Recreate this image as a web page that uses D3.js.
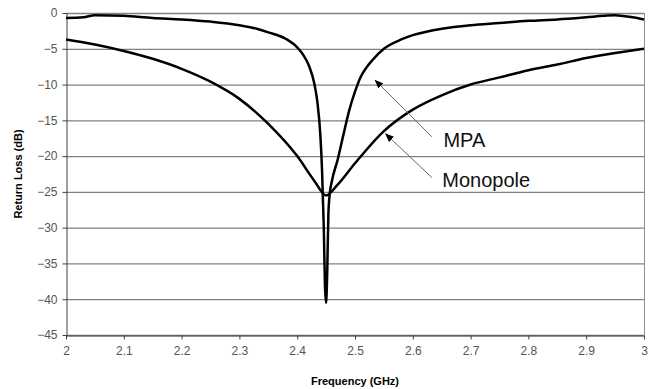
<!DOCTYPE html>
<html><head><meta charset="utf-8">
<script src="https://cdnjs.cloudflare.com/ajax/libs/d3/7.8.5/d3.min.js"></script>
<style>body{margin:0;background:#fff}svg{display:block}</style>
</head><body><svg id="c" width="659" height="389"></svg>
<script>
const xTicks = [2,2.1,2.2,2.3,2.4,2.5,2.6,2.7,2.8,2.9,3];
const yTicks = [0,-5,-10,-15,-20,-25,-30,-35,-40,-45];
const mpaFreq = [2.0,2.03,2.05,2.1,2.15,2.2,2.25,2.3,2.33,2.35,2.38,2.4,2.41,2.42,2.43,2.435,2.44,2.443,2.446,2.448,2.45,2.452,2.454,2.456,2.46,2.47,2.48,2.49,2.5,2.51,2.52,2.53,2.55,2.58,2.6,2.65,2.7,2.75,2.8,2.85,2.9,2.93,2.95,2.98,3.0];
const mpaDb   = [-0.7,-0.6,-0.3,-0.4,-0.7,-0.9,-1.2,-1.7,-2.2,-2.7,-3.6,-4.8,-5.8,-7.3,-10,-12.5,-17,-22,-30,-38,-40.5,-36,-28,-25.5,-23.5,-20.5,-17,-13.6,-11,-8.9,-7.6,-6.6,-5,-3.7,-3.1,-2.2,-1.7,-1.4,-1.1,-0.9,-0.6,-0.4,-0.3,-0.6,-0.9];
const monoFreq = [2.0,2.05,2.1,2.15,2.2,2.25,2.3,2.35,2.4,2.43,2.45,2.47,2.5,2.55,2.6,2.65,2.7,2.75,2.8,2.85,2.9,2.95,3.0];
const monoDb   = [-3.7,-4.4,-5.3,-6.4,-7.8,-9.6,-12.0,-15.5,-20,-23.5,-25.5,-24,-21,-16.5,-13.5,-11.5,-10,-9,-8.0,-7.2,-6.3,-5.6,-5.0];
const labels = ["MPA","Monopole"];

const svg = d3.select("#c");
const m = {l:66, r:644, t:13, b:335};
const x = d3.scaleLinear().domain([2,3]).range([m.l,m.r]);
const y = d3.scaleLinear().domain([0,-45]).range([m.t,m.b]);

// gridlines
svg.append("g").selectAll("line").data(yTicks).join("line")
  .attr("x1",m.l).attr("x2",m.r).attr("y1",d=>y(d)+0.5).attr("y2",d=>y(d)+0.5)
  .attr("stroke","#808080").attr("stroke-width",1.3);
// right border
svg.append("line").attr("x1",m.r+0.5).attr("x2",m.r+0.5).attr("y1",m.t).attr("y2",m.b).attr("stroke","#909090");

// axes
const ax = svg.append("g").attr("transform",`translate(0,${m.b+0.5})`)
  .call(d3.axisBottom(x).tickValues(xTicks).tickSize(4).tickSizeOuter(0).tickPadding(7).tickFormat(d=>d3.format("")(+d.toFixed(1))));
const ay = svg.append("g").attr("transform",`translate(${m.l+0.5},0)`)
  .call(d3.axisLeft(y).tickValues(yTicks).tickSize(4).tickSizeOuter(0).tickPadding(5));
[ax,ay].forEach(a=>{
  a.selectAll("path,line").attr("stroke","#404040");
  a.selectAll("text").attr("font-family","'Liberation Sans', Arial, sans-serif").attr("font-size",12).attr("fill","#555");
});

// curves
const line = d3.line().x(d=>x(d[0])).y(d=>y(d[1])).curve(d3.curveMonotoneX);
svg.append("path").datum(mpaFreq.map((f,i)=>[f,mpaDb[i]])).attr("d",line)
  .attr("fill","none").attr("stroke","#000").attr("stroke-width",2.5);
svg.append("path").datum(monoFreq.map((f,i)=>[f,monoDb[i]])).attr("d",line)
  .attr("fill","none").attr("stroke","#000").attr("stroke-width",2.5);

// annotations
svg.append("defs").append("marker").attr("id","ah").attr("viewBox","0 0 10 10")
  .attr("refX",9).attr("refY",5).attr("markerWidth",9).attr("markerHeight",9).attr("orient","auto")
  .attr("markerUnits","userSpaceOnUse")
  .append("path").attr("d","M0,1 L10,5 L0,9 Z").attr("fill","#000");
const ann = [
  {f1:2.633,d1:-17.3,f2:2.535,d2:-9.4,tf:2.653,td:-18.7},
  {f1:2.633,d1:-23.0,f2:2.553,d2:-16.9,tf:2.651,td:-24.3}
];
ann.forEach((a,i)=>{
  svg.append("line").attr("x1",x(a.f1)).attr("y1",y(a.d1)).attr("x2",x(a.f2)).attr("y2",y(a.d2))
    .attr("stroke","#666").attr("stroke-width",1).attr("marker-end","url(#ah)");
  svg.append("text").attr("x",x(a.tf)).attr("y",y(a.td)).text(labels[i])
    .attr("font-family","'Liberation Sans', Arial, sans-serif").attr("font-size",20).attr("fill","#111");
});

// axis titles
svg.append("text").attr("x",(m.l+m.r)/2).attr("y",385).attr("text-anchor","middle")
  .attr("font-family","'Liberation Sans', Arial, sans-serif").attr("font-size",11).attr("font-weight","bold").text("Frequency (GHz)");
svg.append("text").attr("transform",`translate(22,${(m.t+m.b)/2}) rotate(-90)`).attr("text-anchor","middle")
  .attr("font-family","'Liberation Sans', Arial, sans-serif").attr("font-size",11).attr("font-weight","bold").text("Return Loss (dB)");
</script></body></html>
